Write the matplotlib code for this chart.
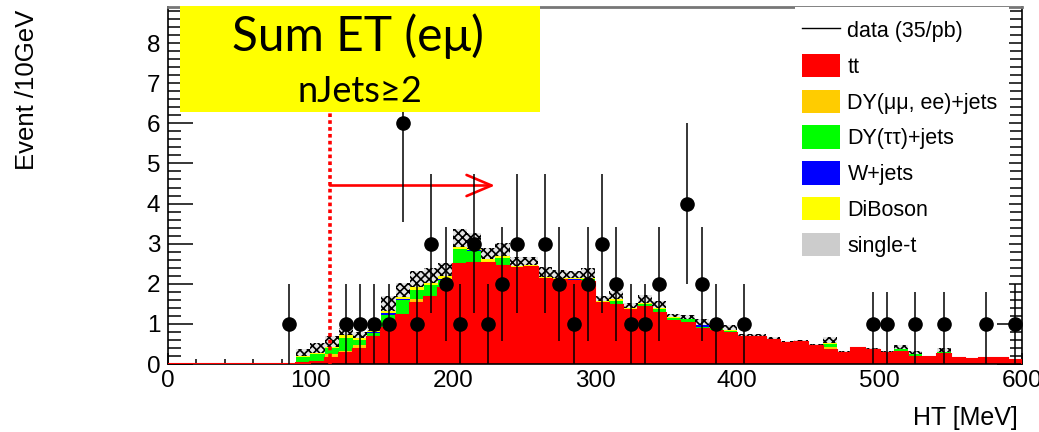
import numpy as np
import matplotlib.pyplot as plt
from matplotlib.patches import Patch, Rectangle
from matplotlib.lines import Line2D
from matplotlib.ticker import MultipleLocator

plt.rcParams['font.family'] = ['Liberation Sans', 'DejaVu Sans']
plt.rcParams['hatch.linewidth'] = 1.2

# HT histogram, 10 GeV bins; MC is non-zero from 90 GeV upward
bin_width = 10
first_bin = 90
n_bins = 60

tt = [0.03, 0.05, 0.14, 0.27, 0.37, 0.68, 0.89, 1.22, 1.52, 1.67,
      1.89, 2.49, 2.53, 2.52, 2.45, 2.39, 2.42, 2.12, 2.10, 2.08,
      2.05, 1.52, 1.48, 1.35, 1.42, 1.27, 1.08, 1.03, 0.87, 0.82,
      0.77, 0.67, 0.67, 0.60, 0.53, 0.56, 0.45, 0.35, 0.28, 0.39,
      0.35, 0.28, 0.31, 0.18, 0.17, 0.25, 0.14, 0.12, 0.15, 0.15, 0.10]
dy_ll = [0, 0.02, 0.10, 0.05, 0.10, 0, 0, 0, 0.10, 0,
         0, 0, 0, 0, 0, 0, 0, 0, 0, 0,
         0, 0, 0, 0, 0, 0, 0, 0, 0, 0,
         0, 0, 0, 0, 0, 0, 0, 0.07, 0, 0,
         0, 0, 0, 0, 0.02, 0, 0, 0, 0, 0, 0]
dy_tautau = [0.15, 0.18, 0.15, 0.32, 0.13, 0.09, 0.33, 0.38, 0.23, 0.30,
             0.21, 0.38, 0.28, 0, 0.19, 0, 0, 0, 0, 0,
             0.06, 0, 0.10, 0, 0.08, 0.10, 0.06, 0.08, 0.05, 0.06,
             0.06, 0, 0, 0, 0, 0, 0, 0.09, 0, 0,
             0, 0, 0.06, 0.06, 0, 0.06, 0, 0, 0, 0, 0]
wjets = [0, 0, 0, 0.02, 0, 0.02, 0.04, 0.03, 0, 0,
         0.03, 0, 0.03, 0, 0, 0, 0, 0.03, 0.02, 0.04,
         0, 0, 0, 0, 0, 0, 0, 0, 0.04, 0,
         0, 0, 0, 0, 0, 0, 0, 0, 0, 0,
         0, 0, 0, 0, 0, 0, 0, 0, 0, 0, 0]
diboson = [0.02, 0.02, 0.04, 0.06, 0.04, 0.04, 0.06, 0.05, 0.06, 0.06,
           0.06, 0.05, 0.02, 0.10, 0.05, 0.05, 0.04, 0.03, 0.03, 0.03,
           0.03, 0.04, 0.04, 0.04, 0.03, 0.03, 0.02, 0.02, 0.01, 0.01,
           0.01, 0.02, 0.01, 0.02, 0.01, 0.01, 0, 0.02, 0, 0,
           0, 0, 0, 0, 0, 0, 0, 0, 0, 0, 0]
single_t = [0.17, 0.26, 0.27, 0.17, 0.17, 0.09, 0.38, 0.34, 0.40, 0.36,
            0.33, 0.45, 0.41, 0.27, 0.33, 0.24, 0.22, 0.25, 0.20, 0.18,
            0.25, 0.14, 0.19, 0.13, 0.19, 0.18, 0.09, 0.09, 0.16, 0.09,
            0.12, 0.06, 0.07, 0.06, 0.04, 0.04, 0.04, 0.15, 0.05, 0.04,
            0.04, 0.04, 0.10, 0.09, 0.02, 0.08, 0.03, 0.03, 0.03, 0.03, 0.03]

# data (35/pb): bin centre and event count
data_x = [85, 125, 135, 145, 155, 165, 175, 185, 195, 205, 215, 225, 235, 245,
          265, 275, 285, 295, 305, 315, 325, 335, 345, 365, 375, 385, 405,
          495, 505, 525, 545, 575, 595]
data_n = [1, 1, 1, 1, 1, 6, 1, 3, 2, 1, 3, 1, 2, 3,
          3, 2, 1, 2, 3, 2, 1, 1, 2, 4, 2, 1, 1,
          1, 1, 1, 1, 1, 1]

cut_ht = 113.8

samples = [
    ('tt', tt, '#ff0000'),
    ('DY(μμ, ee)+jets', dy_ll, '#ffcc00'),
    ('DY(ττ)+jets', dy_tautau, '#00ff00'),
    ('W+jets', wjets, '#0000ff'),
    ('DiBoson', diboson, '#ffff00'),
    ('single-t', single_t, '#cccccc'),
]

edges = np.arange(0, n_bins * bin_width + 1, bin_width)
pad = first_bin // bin_width

fig = plt.figure(figsize=(10.39, 4.32), dpi=100)
ax = fig.add_axes([0.1617, 0.1574, 0.8219, 0.8264])

# stacked MC
bottom = np.zeros(n_bins)
for name, vals, col in samples:
    h = np.concatenate([np.zeros(pad), np.array(vals, dtype=float)])
    top = bottom + h
    if name == 'single-t':
        ax.stairs(top, edges, baseline=bottom, fill=True, facecolor='#e4e4e4',
                  edgecolor='black', hatch='xxxx', lw=0, zorder=2)
    else:
        ax.stairs(top, edges, baseline=bottom, fill=True, color=col, lw=0, zorder=2)
    if name == 'tt':
        ax.stairs(top, edges, color='red', lw=1.5, zorder=3)
    bottom = top

# data points with Poisson errors
data_n = np.array(data_n, dtype=float)
ax.errorbar(data_x, data_n, yerr=np.sqrt(data_n), fmt='o', color='black',
            ms=9.5, elinewidth=1.1, capsize=0, zorder=4)

# selection cut
ax.axvline(cut_ht, ymin=0, ymax=0.71, color='red', lw=2.6,
           linestyle=(0, (1, 0.9)), zorder=3)
ax.annotate('', xy=(229.7, 4.45), xytext=(cut_ht, 4.45),
            arrowprops=dict(arrowstyle='->,head_length=0.9,head_width=0.38',
                            color='red', lw=1.9, shrinkA=0, shrinkB=0,
                            mutation_scale=20), zorder=3)

ax.set_xlim(0, 600)
ax.set_ylim(0, 8.9)
ax.xaxis.set_major_locator(MultipleLocator(100))
ax.xaxis.set_minor_locator(MultipleLocator(20))
ax.yaxis.set_major_locator(MultipleLocator(1))
ax.yaxis.set_minor_locator(MultipleLocator(0.2))
ax.tick_params(which='both', direction='in', top=False, right=True,
               labelsize=17.5, width=1.1)
ax.tick_params(axis='y', which='major', length=18, pad=5.5)
ax.tick_params(axis='y', which='minor', length=9)
ax.tick_params(axis='x', which='major', length=7.7, pad=4)
ax.tick_params(axis='x', which='minor', length=3.8)
for s in ax.spines.values():
    s.set_linewidth(1.2)
ax.spines['top'].set_color('#777777')
ax.spines['top'].set_linewidth(2)

fig.text(27 / 1039, 1 - 90 / 432, 'Event /10GeV', rotation=90,
         ha='center', va='center', fontsize=18.5)
fig.text(1018 / 1039, 1 - 418 / 432, 'HT [MeV]', ha='right', va='center',
         fontsize=18)

# legend on a white panel
ax.add_patch(Rectangle((0.734, 0.2017), 0.251, 0.7983, transform=ax.transAxes,
                       facecolor='white', edgecolor='none', zorder=5))
handles = [Line2D([], [], color='black', lw=1)]
labels = ['data (35/pb)']
for name, vals, col in samples:
    handles.append(Patch(facecolor=col, edgecolor='none'))
    labels.append(name)
leg = ax.legend(handles, labels, loc='upper left', bbox_to_anchor=(0.742, 0.969),
                frameon=False, fontsize=15.5, handlelength=1.8, handleheight=1.3,
                labelspacing=0.55, handletextpad=0.33, borderpad=0,
                borderaxespad=0)
leg.set_zorder(6)

# title box
fig.add_artist(Rectangle((180 / 1039, 1 - 112 / 432), 360 / 1039, 106 / 432,
                         transform=fig.transFigure, facecolor='#ffff00',
                         edgecolor='none', zorder=10))
fig.text(358 / 1039, 1 - 36 / 432, 'Sum ET (eμ)', ha='center', va='center',
         fontsize=34.5, family=['Lato', 'DejaVu Sans'], zorder=11)
fig.text(360 / 1039, 1 - 92 / 432, 'nJets≥2', ha='center', va='center',
         fontsize=26, family=['Lato', 'DejaVu Sans'], zorder=11)

fig.savefig('out.png', dpi=100)
